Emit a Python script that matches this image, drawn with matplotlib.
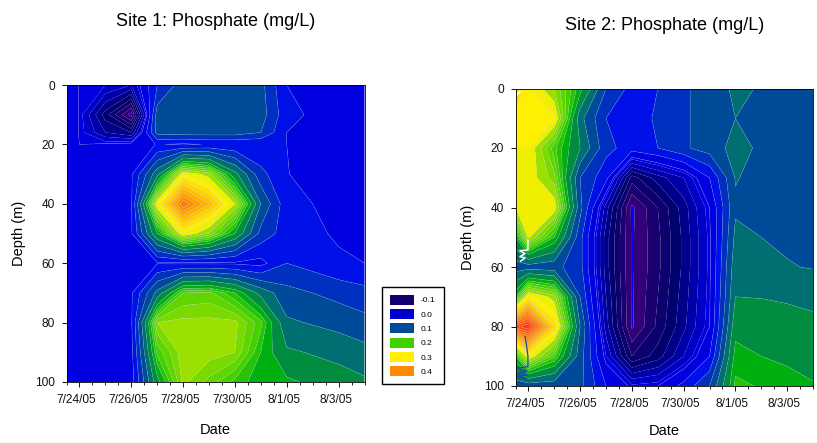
import numpy as np
import matplotlib
matplotlib.use('Agg')
import matplotlib.pyplot as plt
from matplotlib.colors import LinearSegmentedColormap, Normalize
from matplotlib.patches import Patch
from matplotlib.transforms import ScaledTranslation

plt.rcParams['font.family'] = ['Liberation Sans', 'DejaVu Sans']

# x = day of July (8/1/05 is 32)
tick_days = [24, 26, 28, 30, 32, 34]
tick_labels = ['7/24/05', '7/26/05', '7/28/05', '7/30/05', '8/1/05', '8/3/05']

depth1 = [0, 10, 16, 20, 30, 40, 50, 60, 70, 80, 90, 100]
days1 = [23.5, 24, 25, 26, 27, 28, 29, 30, 31, 32, 34, 35]
site1 = [
    [.01, -.001, -.01, -.03, .06, .105, .105, .105, .10, .03, .01, .005],
    [.01, -.001, -.08, -.16, .105, .105, .105, .105, .105, .04, .01, .012],
    [.01, -.001, -.05, -.07, .10, .105, .105, .105, .09, .03, .01, .01],
    [.01, 0, .004, .008, .032, .025, .032, .032, .032, .03, .01, .012],
    [.01, .01, .012, .026, .14, .30, .27, .16, .07, .031, .012, .012],
    [.01, .01, .012, .026, .30, .42, .36, .28, .12, .04, .02, .015],
    [.01, .01, .012, .026, .18, .30, .26, .18, .08, .045, .026, .02],
    [.01, .01, .012, .026, .028, .025, .025, .025, .02, .06, .035, .03],
    [.01, .01, .012, .026, .13, .23, .235, .20, .14, .10, .08, .07],
    [.01, .01, .012, .026, .26, .265, .265, .265, .22, .125, .11, .10],
    [.01, .01, .012, .02, .22, .27, .268, .26, .20, .155, .14, .13],
    [.01, .01, .01, .015, .17, .265, .24, .21, .19, .185, .165, .155],
]

depth2 = [0, 10, 20, 30, 40, 50, 60, 70, 80, 90, 100]
days2 = [23.5, 24, 25, 26, 27, 28, 29, 30, 31, 32, 33, 34, 35]
site2 = [
    [.33, .305, .26, .19, .09, .05, .06, .085, .105, .125, .118, .105, .105],
    [.31, .305, .305, .13, .06, .05, .063, .085, .105, .12, .11, .105, .105],
    [.30, .30, .22, .15, .07, .045, .06, .085, .105, .13, .115, .105, .105],
    [.295, .295, .25, .09, .04, -.10, -.06, -.03, .03, .122, .11, .105, .105],
    [.28, .295, .295, .10, -.04, -.155, -.11, -.06, 0, .115, .11, .105, .105],
    [.18, .285, .20, .07, -.06, -.153, -.115, -.065, -.005, .128, .12, .115, .11],
    [.105, .105, .10, .07, -.06, -.153, -.115, -.065, -.005, .14, .13, .122, .118],
    [.20, .31, .27, .09, -.05, -.153, -.11, -.06, -.003, .15, .149, .147, .145],
    [.46, .48, .33, .12, -.04, -.153, -.105, -.055, 0, .17, .165, .16, .155],
    [.20, .30, .22, .105, -.01, -.11, -.08, -.03, .03, .19, .18, .175, .17],
    [.10, .10, .10, .10, .03, -.005, 0, .04, .09, .205, .198, .19, .182],
]

# stray marks the contouring left in site 2
white_top_days = [23.55, 23.62, 23.68]
white_top_depths = [2.2, 1.5, 1.0]
white_mid_days = [23.98, 23.98, 23.67, 23.87, 23.67, 23.87, 23.7]
white_mid_depths = [51, 54.3, 54.5, 55.5, 56.5, 57, 58]
zigzag_days = [23.87, 23.92, 23.98, 23.98, 23.55, 23.95, 23.55, 23.95, 23.55, 23.9]
zigzag_depths = [83.4, 86, 90, 93.5, 94, 95, 95.7, 96.3, 96.8, 97.3]

levels = [-.15, -.13, -.11, -.09, -.07, -.05, -.03, -.01, 0, .03, .06, .09, .12,
          .15, .18, .20, .215, .23, .245, .26, .28, .30, .315, .33, .345, .36,
          .375, .39, .405, .42, .435, .45, .465, .48, .50]

anchors = [(-.16, '#4a0080'), (-.12, '#1a0070'), (-.08, '#00006e'), (-.04, '#0000a8'),
           (0, '#0000e8'), (.015, '#0000e0'), (.045, '#0010e8'), (.075, '#0030c0'),
           (.105, '#004a9a'), (.135, '#007070'), (.165, '#008c40'), (.19, '#00b010'),
           (.22, '#3fd000'), (.27, '#9be000'), (.29, '#eef000'), (.31, '#fff000'),
           (.40, '#ff8a00'), (.48, '#ff3010'), (.50, '#e00000')]
vmin, vmax = -.16, .50
cmap = LinearSegmentedColormap.from_list(
    'phosphate', [((v - vmin) / (vmax - vmin), c) for v, c in anchors], N=512)
cmap.set_under('#0000e8')
cmap.set_over('white')
norm = Normalize(vmin, vmax)

legend_labels = ['-0.1', '0.0', '0.1', '0.2', '0.3', '0.4']
legend_colors = ['#14006e', '#0000d0', '#004a9a', '#3fd000', '#fff000', '#ff8a00']

W, H = 817, 443
fig = plt.figure(figsize=(W / 100, H / 100), dpi=100)


def panel(box, days, depths, vals, title, title_xy, date_pad):
    x0, y0, x1, y1 = box
    ax = fig.add_axes([x0 / W, 1 - y1 / H, (x1 - x0) / W, (y1 - y0) / H])
    ax.contourf(days, depths, np.array(vals), levels=levels, cmap=cmap, norm=norm,
                extend='both', antialiased=True)
    # the light outlines do not show in the dark core
    ax.contour(days, depths, np.array(vals), levels=[v for v in levels if v >= 0],
               colors='#b8c8e8', linewidths=0.4, alpha=0.3)
    ax.set_xlim(23.5, 35)
    ax.set_ylim(100, 0)
    ax.set_xticks(tick_days)
    ax.set_xticklabels(tick_labels)
    ax.set_xticks(np.arange(23.5, 35.01, 0.5), minor=True)
    ax.set_yticks([0, 20, 40, 60, 80, 100])
    ax.tick_params(labelsize=8.6, length=3.5, width=0.7, pad=5, colors='#111111')
    ax.tick_params(which='minor', length=2, width=0.6)
    shift = ScaledTranslation(-3 / 100, 0, fig.dpi_scale_trans)
    for lab in ax.get_xticklabels():
        lab.set_transform(lab.get_transform() + shift)
    ax.set_xlabel('Date', fontsize=10.5, labelpad=date_pad)
    ax.set_ylabel('Depth (m)', fontsize=10.5, labelpad=6)
    for s in ax.spines.values():
        s.set_linewidth(0.6)
    fig.text(title_xy[0] / W, 1 - title_xy[1] / H, title, fontsize=13,
             ha='center', va='center')
    return ax


ax1 = panel((66.5, 85, 364.5, 382), days1, depth1, site1,
            'Site 1: Phosphate (mg/L)', (216, 21), 12.5)
ax2 = panel((515.5, 88.5, 813, 386), days2, depth2, site2,
            'Site 2: Phosphate (mg/L)', (665, 25), 10.5)

ax2.plot(white_top_days, white_top_depths, color='white', lw=1.2)
ax2.plot(white_mid_days, white_mid_depths, color='white', lw=1.1)
ax2.plot(zigzag_days, zigzag_depths, color='#1a4aa8', lw=0.9)

handles = [Patch(facecolor=c, edgecolor='none') for c in legend_colors]
fig.legend(handles, legend_labels, loc='center', bbox_to_anchor=(413 / W, 1 - 335.5 / H),
           fontsize=6, frameon=True, fancybox=False, edgecolor='black', framealpha=1,
           handlelength=2.9, handleheight=1.5, labelspacing=0.5, handletextpad=0.8,
           borderpad=0.95, borderaxespad=0)

fig.savefig('out.png', dpi=100)
